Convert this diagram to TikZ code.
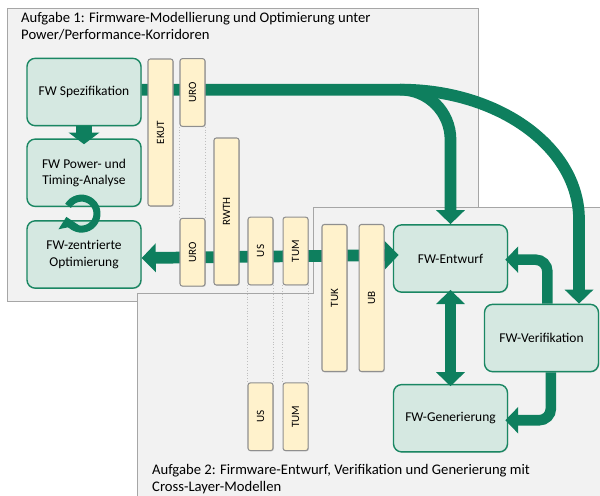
\documentclass[tikz,border=0pt]{standalone}
\usepackage{fontspec}
\setmainfont{Carlito}
\usepackage{graphicx}
\usepackage{tikz}
\usetikzlibrary{arrows.meta,positioning,calc,shadows}
\definecolor{panelgrey}{HTML}{F2F2F2}
\definecolor{panelline}{HTML}{A6A6A6}
\definecolor{flowgreen}{HTML}{0E7F5E}
\definecolor{stagefill}{HTML}{D5E8E1}
\definecolor{stageline}{HTML}{1A8763}
\definecolor{barfill}{HTML}{FFF2CC}
\definecolor{barline}{HTML}{8F8F8F}

\begin{document}
\begin{tikzpicture}[
  x=0.03cm,y=-0.03cm,
  >={Triangle[width=24pt,length=12pt]},
  panel/.style={fill=panelgrey,draw=panelline,line width=0.8pt},
  heading/.style={anchor=north west,align=left,inner sep=0pt,
    font=\fontsize{12.5}{14.5}\selectfont},
  stage/.style={draw=stageline,fill=stagefill,line width=1.2pt,rounded corners=7pt,
    minimum width=3.42cm,minimum height=2.02cm,align=center,
    font=\fontsize{11.5}{14}\selectfont,
    drop shadow={shadow xshift=0.7pt,shadow yshift=-0.7pt,opacity=0.3}},
  partner/.style={draw=barline,fill=barfill,line width=0.9pt,rounded corners=2pt,
    minimum width=0.75cm,inner sep=0pt,font=\fontsize{9.5}{11}\selectfont,
    drop shadow={shadow xshift=0.7pt,shadow yshift=-0.7pt,opacity=0.3}},
  longbar/.style={partner,minimum height=4.41cm},
  shortbar/.style={partner,minimum height=2.03cm},
  flow/.style={draw=flowgreen,line width=10pt},
  guide/.style={draw=black!25,dotted,line width=0.4pt}
]
\useasboundingbox (0,0) rectangle (600,495);
\fill[white] (0,0) rectangle (600,495);

% the two task areas
\draw[panel] (7,8) rectangle (478,301);
\draw[panel] (137,510) -- (137,293) -- (313,293) -- (313,207)
  -- (610,207) -- (610,510) -- cycle;
\node[heading] (taskA) at (21,12)
  {Aufgabe 1: Firmware-Modellierung und Optimierung unter\\Power/Performance-Korridoren};
\node[heading] (taskB) at (152,464)
  {Aufgabe 2: Firmware-Entwurf, Verifikation und Generierung mit\\Cross-Layer-Modellen};

% firmware stages
\node[stage] (spez) at (84,92) {FW Spezifikation};
\node[stage,below=0.36cm of spez] (ana) {FW Power- und\\Timing-Analyse};
\node[stage,below=0.39cm of ana] (opt) {FW-zentrierte\\Optimierung};
\node[stage] (entw) at (450.5,258.5) {FW-Entwurf};
\node[stage] (veri) at (541.5,338) {FW-Verifikation};
\node[stage,below=2.73cm of entw] (gen) {FW-Generierung};

% flows
\coordinate (fork) at (400,89.6);
\coordinate (veriin) at ($(veri.north)!0.65!(veri.north east)$);
\draw[flow,->,rounded corners=1.5cm] ([yshift=2pt]spez.east) -| (entw.north);
\draw[flow,->] (fork) .. controls +(99,0) and +(0,-72) .. ($(veriin)+(0,-84)$)
  -- (veriin);
\draw[flow,line width=13pt,->,>={Triangle[width=26pt,length=10pt]}]
  (spez.south) -- ([yshift=-5pt]ana.north);
\coordinate (loop) at ($(ana.south)!0.5!(opt.north)+(-2.5,0)$);
\draw[flowgreen,line width=6pt,-{Triangle[width=17pt,length=9pt]}]
  (loop) ++(-150:15.5) arc[start angle=-150,end angle=168,radius=15.5];
\draw[flow,<->] ([yshift=-3pt]opt.east) -- ([yshift=3pt,xshift=5pt]entw.west);
\draw[flow,<->] ([yshift=2.5pt]entw.south) -- ([yshift=-2pt]entw.south |- gen.north);
\draw[flow,line width=9pt,->,>={Triangle[width=22pt,length=11pt]},rounded corners=10pt]
  ([xshift=5pt]veri.north) |- ([xshift=-2.5pt,yshift=-1pt]entw.east);
\draw[flow,line width=9pt,->,>={Triangle[width=22pt,length=11pt]},rounded corners=10pt]
  ([xshift=8pt]veri.south) |- ([xshift=-2.5pt,yshift=-1.7pt]gen.east);

% partners
\node[longbar] (ekut) at (160.5,132.5) {\rotatebox{90}{EKUT}};
\node[shortbar] (uroA) at (192.5,92.5) {\rotatebox{90}{URO}};
\node[longbar] (rwth) at (226.5,211.5) {\rotatebox{90}{RWTH}};
\node[shortbar,below=2.73cm of uroA] (uroB) {\rotatebox{90}{URO}};
\node[shortbar] (usA) at (260.5,251) {\rotatebox{90}{US}};
\node[shortbar,right=0.27cm of usA] (tumA) {\rotatebox{90}{TUM}};
\node[longbar] (tuk) at (334.5,298) {\rotatebox{90}{TUK}};
\node[longbar,right=0.33cm of tuk] (ub) {\rotatebox{90}{UB}};
\node[shortbar,below=2.91cm of usA] (usB) {\rotatebox{90}{US}};
\node[shortbar,right=0.27cm of usB] (tumB) {\rotatebox{90}{TUM}};

\draw[guide] (uroA.south west) -- (uroB.north west);
\draw[guide] (uroA.south east) -- (uroB.north east);
\draw[guide] (usA.south west) -- (usB.north west);
\draw[guide] (usA.south east) -- (usB.north east);
\draw[guide] (tumA.south west) -- (tumB.north west);
\draw[guide] (tumA.south east) -- (tumB.north east);
\end{tikzpicture}
\end{document}
